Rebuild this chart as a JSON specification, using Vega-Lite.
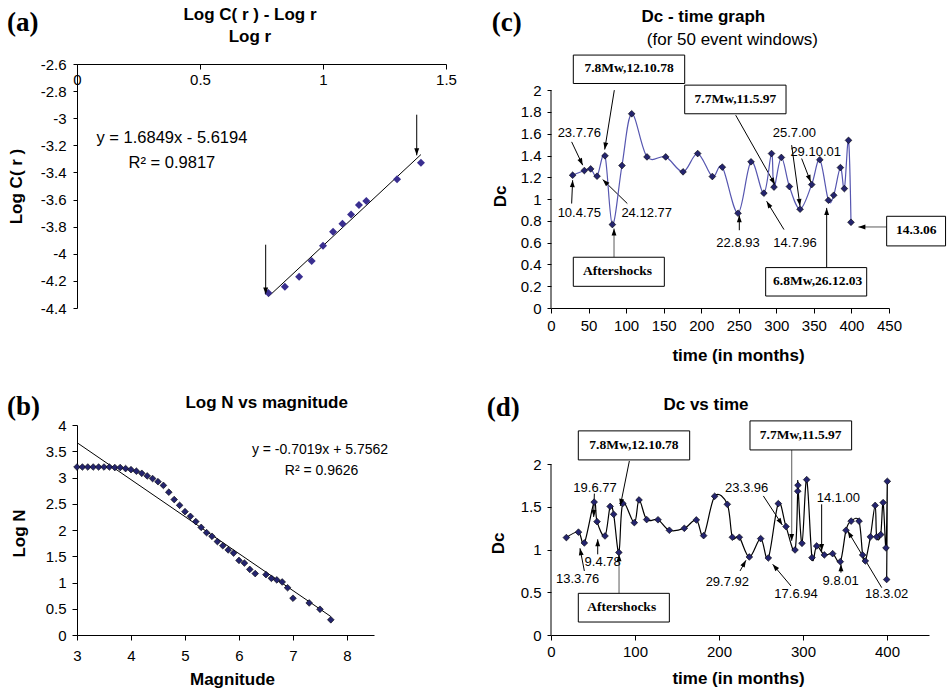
{
  "$schema": "https://vega.github.io/schema/vega-lite/v6.json",
  "background": "white",
  "padding": {"left": 6, "top": 5, "right": 0, "bottom": 3},
  "columns": 2,
  "bounds": "flush",
  "align": "each",
  "spacing": {"row": 117, "column": 105},
  "datasets": {
    "a_pts": [{"x":0.778,"y":-4.289},{"x":0.845,"y":-4.243},{"x":0.903,"y":-4.169},{"x":0.954,"y":-4.053},{"x":1.0,"y":-3.94},{"x":1.041,"y":-3.837},{"x":1.079,"y":-3.778},{"x":1.114,"y":-3.711},{"x":1.146,"y":-3.64},{"x":1.176,"y":-3.611},{"x":1.301,"y":-3.451},{"x":1.398,"y":-3.328}],
    "a_arrows": [{"x":0.767,"y":-3.933,"x2":0.767,"y2":-4.3,"ang":180},{"x":1.381,"y":-2.974,"x2":1.381,"y2":-3.274,"ang":180}],
    "a_title": [{"x":0.703,"y":-2.2385,"label":"Log C( r ) - Log r"},{"x":0.703,"y":-2.4008,"label":"Log r"}],
    "a_tag": [{"x":-0.2846,"y":-2.2975,"label":"(a)"}],
    "a_eq": [{"x":0.386,"y":-3.146,"label":"y = 1.6849x - 5.6194"},{"x":0.386,"y":-3.328,"label":"R² = 0.9817"}],
    "b_pts": [{"x":3.0,"y":3.2},{"x":3.1,"y":3.2},{"x":3.2,"y":3.2},{"x":3.3,"y":3.2},{"x":3.4,"y":3.2},{"x":3.5,"y":3.2},{"x":3.6,"y":3.2},{"x":3.7,"y":3.19},{"x":3.8,"y":3.19},{"x":3.9,"y":3.17},{"x":4.0,"y":3.15},{"x":4.1,"y":3.12},{"x":4.2,"y":3.08},{"x":4.3,"y":3.03},{"x":4.4,"y":2.98},{"x":4.5,"y":2.92},{"x":4.6,"y":2.85},{"x":4.7,"y":2.72},{"x":4.8,"y":2.58},{"x":4.9,"y":2.47},{"x":5.0,"y":2.35},{"x":5.1,"y":2.26},{"x":5.2,"y":2.16},{"x":5.3,"y":2.05},{"x":5.4,"y":1.95},{"x":5.5,"y":1.88},{"x":5.6,"y":1.78},{"x":5.7,"y":1.7},{"x":5.8,"y":1.62},{"x":5.9,"y":1.56},{"x":6.0,"y":1.42},{"x":6.1,"y":1.37},{"x":6.2,"y":1.25},{"x":6.3,"y":1.17},{"x":6.5,"y":1.15},{"x":6.6,"y":1.08},{"x":6.7,"y":1.05},{"x":6.8,"y":1.01},{"x":6.9,"y":0.9},{"x":7.0,"y":0.7},{"x":7.3,"y":0.61},{"x":7.5,"y":0.49},{"x":7.7,"y":0.29}],
    "b_title": [{"x":6.513,"y":4.425,"label":"Log N vs magnitude"}],
    "b_tag": [{"x":1.704,"y":4.343,"label":"(b)"}],
    "b_eq": [{"x":7.5,"y":3.524,"label":"y = -0.7019x + 5.7562"},{"x":7.53,"y":3.124,"label":"R² = 0.9626"}],
    "c_pts": [{"i":1,"x":28.8,"y":1.219},{"i":2,"x":44.4,"y":1.262},{"i":3,"x":52.8,"y":1.277},{"i":4,"x":61.3,"y":1.21},{"i":5,"x":71.9,"y":1.397},{"i":6,"x":81.7,"y":0.766},{"i":7,"x":94.5,"y":1.308},{"i":8,"x":107.4,"y":1.783},{"i":9,"x":127.8,"y":1.387},{"i":10,"x":152.7,"y":1.387},{"i":11,"x":175.8,"y":1.25},{"i":12,"x":195.3,"y":1.418},{"i":13,"x":214.8,"y":1.207},{"i":14,"x":228.1,"y":1.293},{"i":15,"x":249.0,"y":0.87},{"i":16,"x":266.3,"y":1.342},{"i":17,"x":283.4,"y":1.054},{"i":18,"x":293.6,"y":1.418},{"i":19,"x":296.9,"y":1.11},{"i":20,"x":306.7,"y":1.382},{"i":21,"x":317.4,"y":1.115},{"i":22,"x":331.6,"y":0.907},{"i":23,"x":347.1,"y":1.133},{"i":24,"x":357.9,"y":1.361},{"i":25,"x":369.3,"y":0.989},{"i":26,"x":376.4,"y":1.035},{"i":27,"x":385.3,"y":1.289},{"i":28,"x":390.6,"y":1.096},{"i":29,"x":396.1,"y":1.539},{"i":30,"x":399.4,"y":0.787}],
    "c_arrows": [{"x":84.3,"y":2.0,"x2":71.5,"y2":1.455,"ang":189.2},{"x":245.9,"y":1.77,"x2":298.2,"y2":1.133,"ang":150.4},{"x":27.5,"y":1.525,"x2":42.2,"y2":1.311,"ang":154.8},{"x":27.5,"y":0.959,"x2":28.8,"y2":1.173,"ang":2.5},{"x":101.6,"y":0.959,"x2":68.8,"y2":1.179,"ang":-45.8},{"x":250.7,"y":0.714,"x2":250.7,"y2":0.851,"ang":0},{"x":310.2,"y":0.72,"x2":287.1,"y2":0.98,"ang":-31.5},{"x":320.4,"y":1.495,"x2":331.5,"y2":0.937,"ang":172.2},{"x":333.7,"y":1.372,"x2":345.7,"y2":1.158,"ang":158.9},{"x":367.0,"y":0.371,"x2":367.0,"y2":0.919,"ang":0}],
    "c_arrows_gray": [{"x":83.9,"y":0.466,"x2":83.9,"y2":0.729,"ang":0},{"x":446.9,"y":0.744,"x2":409.2,"y2":0.744,"ang":-90}],
    "c_boxes": [{"x":29.7,"x2":178.0,"y":2.322,"y2":2.061},{"x":178.0,"x2":312.9,"y":2.046,"y2":1.783},{"x":29.7,"x2":150.9,"y":0.466,"y2":0.199},{"x":285.8,"x2":420.3,"y":0.371,"y2":0.11},{"x":446.9,"x2":525.3,"y":0.842,"y2":0.57}],
    "c_boxtext": [{"x":103.9,"y":2.2,"label":"7.8Mw,12.10.78"},{"x":245.5,"y":1.92,"label":"7.7Mw,11.5.97"},{"x":88.5,"y":0.34,"label":"Aftershocks"},{"x":355,"y":0.248,"label":"6.8Mw,26.12.03"},{"x":486.3,"y":0.715,"label":"14.3.06"}],
    "c_dates": [{"x":37.7,"y":1.602,"label":"23.7.76"},{"x":37.7,"y":0.876,"label":"10.4.75"},{"x":127.4,"y":0.876,"label":"24.12.77"},{"x":249.0,"y":0.6,"label":"22.8.93"},{"x":324.9,"y":0.6,"label":"14.7.96"},{"x":324.0,"y":1.602,"label":"25.7.00"},{"x":352.4,"y":1.433,"label":"29.10.01"}],
    "c_title": [{"x":202.8,"y":2.667,"label":"Dc - time graph"}],
    "c_sub": [{"x":241.4,"y":2.459,"label":"(for 50 event windows)"}],
    "c_tag": [{"x":-79,"y":2.612,"label":"(c)"}],
    "d_pts": [{"i":1,"x":18.3,"y":1.141},{"i":2,"x":32.7,"y":1.205},{"i":3,"x":39.7,"y":1.078},{"i":4,"x":51.4,"y":1.557},{"i":5,"x":54.8,"y":1.328},{"i":6,"x":64.3,"y":1.16},{"i":7,"x":70.4,"y":1.506},{"i":8,"x":74.6,"y":1.414},{"i":9,"x":80.8,"y":0.967},{"i":10,"x":85.5,"y":1.541},{"i":11,"x":99.2,"y":1.316},{"i":12,"x":104.8,"y":1.582},{"i":13,"x":113.9,"y":1.352},{"i":14,"x":127.4,"y":1.35},{"i":15,"x":140.9,"y":1.227},{"i":16,"x":158.7,"y":1.25},{"i":17,"x":173.0,"y":1.348},{"i":18,"x":181.7,"y":1.164},{"i":19,"x":194.8,"y":1.625},{"i":20,"x":209.9,"y":1.531},{"i":21,"x":215.9,"y":1.145},{"i":22,"x":224.2,"y":1.145},{"i":23,"x":236.1,"y":0.914},{"i":24,"x":249.6,"y":1.129},{"i":25,"x":258.7,"y":0.902},{"i":26,"x":270.6,"y":1.539},{"i":27,"x":279.8,"y":1.27},{"i":28,"x":290.5,"y":0.996},{"i":29,"x":293.7,"y":1.684},{"i":30,"x":294.0,"y":1.754},{"i":31,"x":298.8,"y":1.074},{"i":32,"x":304.4,"y":1.82},{"i":33,"x":310.7,"y":0.906},{"i":34,"x":316.3,"y":1.043},{"i":35,"x":325.4,"y":0.938},{"i":36,"x":335.3,"y":0.953},{"i":37,"x":344.4,"y":0.859},{"i":38,"x":351.2,"y":1.227},{"i":39,"x":357.3,"y":1.334},{"i":40,"x":366.7,"y":1.334},{"i":41,"x":371.0,"y":0.938},{"i":42,"x":374.2,"y":0.867},{"i":43,"x":380.2,"y":1.15},{"i":44,"x":385.9,"y":1.518},{"i":45,"x":387.7,"y":1.15},{"i":46,"x":392.5,"y":1.176},{"i":47,"x":395.4,"y":1.551},{"i":48,"x":398.8,"y":1.02},{"i":49,"x":400.4,"y":1.8},{"i":50,"x":399.6,"y":0.65}],
    "d_arrows": [{"x":93.3,"y":2.039,"x2":82.5,"y2":1.512,"ang":-168.7},{"x":51.6,"y":1.656,"x2":50.8,"y2":1.383,"ang":181.6},{"x":39.7,"y":0.75,"x2":34.5,"y2":1.016,"ang":-10.8},{"x":55.6,"y":0.945,"x2":55.6,"y2":1.121,"ang":0},{"x":225,"y":0.75,"x2":232.1,"y2":0.875,"ang":29.4},{"x":285.7,"y":0.574,"x2":263.9,"y2":0.828,"ang":-40.2},{"x":252.8,"y":1.629,"x2":275.4,"y2":1.289,"ang":146.8},{"x":322.2,"y":1.531,"x2":322.2,"y2":0.984,"ang":180},{"x":345.2,"y":0.73,"x2":345.2,"y2":0.828,"ang":0},{"x":393.7,"y":0.555,"x2":353.2,"y2":1.219,"ang":-31.0}],
    "d_arrows_gray": [{"x":286.5,"y":2.168,"x2":286.5,"y2":1.102,"ang":180},{"x":81,"y":0.488,"x2":81,"y2":0.945,"ang":0}],
    "d_boxes": [{"x":32.5,"x2":165.1,"y":2.391,"y2":2.051},{"x":236.9,"x2":357.9,"y":2.508,"y2":2.168},{"x":32.5,"x2":140.9,"y":0.488,"y2":0.152}],
    "d_boxtext": [{"x":98.8,"y":2.227,"label":"7.8Mw,12.10.78"},{"x":297.2,"y":2.344,"label":"7.7Mw,11.5.97"},{"x":84.1,"y":0.332,"label":"Aftershocks"}],
    "d_dates": [{"x":52.4,"y":1.727,"label":"19.6.77"},{"x":31.7,"y":0.652,"label":"13.3.76"},{"x":61.5,"y":0.855,"label":"9.4.78"},{"x":209.9,"y":0.625,"label":"29.7.92"},{"x":291.7,"y":0.477,"label":"17.6.94"},{"x":232.9,"y":1.727,"label":"23.3.96"},{"x":342.1,"y":1.609,"label":"14.1.00"},{"x":344.8,"y":0.633,"label":"9.8.01"},{"x":399.6,"y":0.477,"label":"18.3.02"}],
    "d_title": [{"x":184.5,"y":2.695,"label":"Dc vs time"}],
    "d_tag": [{"x":-76.5,"y":2.664,"label":"(d)"}]
  },
  "concat": [
    {
      "width": 369, "height": 244,
      "encoding": {
        "x": {"field": "x", "type": "quantitative", "scale": {"domain": [0, 1.5], "nice": false, "zero": false},
              "axis": {"orient": "bottom", "offset": -244, "values": [0, 0.5, 1, 1.5], "format": "~g", "title": null, "tickSize": 5, "labelPadding": 3}},
        "y": {"field": "y", "type": "quantitative", "scale": {"domain": [-4.4, -2.6], "nice": false, "zero": false},
              "axis": {"values": [-4.4, -4.2, -4, -3.8, -3.6, -3.4, -3.2, -3, -2.8, -2.6], "format": ".1~f", "labelExpr": "replace(datum.label, '\u2212', '-')", "title": "Log C( r )", "titleX": -61, "titleY": 122, "tickSize": 4, "labelPadding": 7}}
      },
      "layer": [
        {"data": {"name": "a_arrows"}, "mark": {"type": "rule", "color": "black", "strokeWidth": 1, "clip": false}, "encoding": {"x2": {"field": "x2"}, "y2": {"field": "y2"}}},
        {"data": {"name": "a_pts"}, "transform": [{"regression": "y", "on": "x"}], "mark": {"type": "line", "color": "black", "strokeWidth": 1, "clip": false}, "encoding": {}},
        {"data": {"name": "a_pts"}, "mark": {"type": "point", "shape": "diamond", "filled": true, "size": 64, "color": "#3a2f90", "opacity": 1, "clip": false}, "encoding": {}},
        {"data": {"name": "a_arrows"}, "mark": {"type": "point", "shape": "M0,0L-0.7,2L0.7,2Z", "filled": true, "size": 49, "color": "black", "opacity": 1, "clip": false},
         "encoding": {"x": {"field": "x2", "type": "quantitative", "scale": {"domain": [0, 1.5], "nice": false, "zero": false},
                            "axis": {"orient": "bottom", "offset": -244, "values": [0, 0.5, 1, 1.5], "format": "~g", "title": null, "tickSize": 5, "labelPadding": 3}},
                      "y": {"field": "y2", "type": "quantitative", "scale": {"domain": [-4.4, -2.6], "nice": false, "zero": false},
                            "axis": {"values": [-4.4, -4.2, -4, -3.8, -3.6, -3.4, -3.2, -3, -2.8, -2.6], "format": ".1~f", "labelExpr": "replace(datum.label, '\u2212', '-')", "title": "Log C( r )", "titleX": -61, "titleY": 122, "tickSize": 4, "labelPadding": 7}},
                      "angle": {"field": "ang", "type": "quantitative", "scale": null}}},
        {"data": {"name": "a_title"}, "mark": {"type": "text", "font": "Liberation Sans", "fontSize": 17, "fontWeight": "bold", "align": "center", "baseline": "middle", "color": "black", "clip": false}, "encoding": {"text": {"field": "label"}}},
        {"data": {"name": "a_tag"}, "mark": {"type": "text", "font": "Liberation Serif", "fontSize": 27, "fontWeight": "bold", "align": "left", "baseline": "middle", "color": "black", "clip": false}, "encoding": {"text": {"field": "label"}}},
        {"data": {"name": "a_eq"}, "mark": {"type": "text", "font": "Liberation Sans", "fontSize": 16.5, "align": "center", "baseline": "middle", "color": "black", "clip": false}, "encoding": {"text": {"field": "label"}}}
      ]
    },
    {
      "width": 338, "height": 244,
      "encoding": {
        "x": {"field": "x", "type": "quantitative", "scale": {"domain": [0, 450], "nice": false, "zero": false},
              "axis": {"values": [0, 50, 100, 150, 200, 250, 300, 350, 400, 450], "title": "time (in months)", "titleX": 187, "titleY": 47, "tickSize": 5, "labelPadding": 5}},
        "y": {"field": "y", "type": "quantitative", "scale": {"domain": [0, 2.24], "nice": false, "zero": false},
              "axis": {"values": [0, 0.2, 0.4, 0.6, 0.8, 1, 1.2, 1.4, 1.6, 1.8, 2], "format": "~g", "domain": false, "title": "Dc", "titleX": -51, "titleY": 132, "tickSize": 4, "labelPadding": 6}}
      },
      "layer": [
        {"data": {"values": [{"x": 0, "y": 0, "y2": 2}]}, "mark": {"type": "rule", "color": "black", "strokeWidth": 1, "clip": false}, "encoding": {"y2": {"field": "y2"}}},
        {"data": {"name": "c_arrows"}, "mark": {"type": "rule", "color": "black", "strokeWidth": 1, "clip": false}, "encoding": {"x2": {"field": "x2"}, "y2": {"field": "y2"}}},
        {"data": {"name": "c_arrows_gray"}, "mark": {"type": "rule", "color": "#808080", "strokeWidth": 1.3, "clip": false}, "encoding": {"x2": {"field": "x2"}, "y2": {"field": "y2"}}},
        {"data": {"name": "c_pts"}, "mark": {"type": "line", "color": "#5656b0", "strokeWidth": 1.2, "interpolate": "cardinal", "clip": false}, "encoding": {"order": {"field": "i", "type": "quantitative"}}},
        {"data": {"name": "c_pts"}, "mark": {"type": "point", "shape": "diamond", "filled": true, "size": 45, "fill": "#24246e", "stroke": "black", "strokeWidth": 0.6, "opacity": 1, "clip": false}, "encoding": {}},
        {"data": {"name": "c_boxes"}, "mark": {"type": "rect", "fill": "white", "stroke": "black", "strokeWidth": 1, "clip": false}, "encoding": {"x2": {"field": "x2"}, "y2": {"field": "y2"}}},
        {"data": {"name": "c_boxtext"}, "mark": {"type": "text", "font": "Liberation Serif", "fontSize": 13.5, "fontWeight": "bold", "align": "center", "baseline": "middle", "color": "black", "clip": false}, "encoding": {"text": {"field": "label"}}},
        {"data": {"name": "c_dates"}, "mark": {"type": "text", "font": "Liberation Sans", "fontSize": 13, "align": "center", "baseline": "middle", "color": "black", "clip": false}, "encoding": {"text": {"field": "label"}}},
        {"data": {"name": "c_title"}, "mark": {"type": "text", "font": "Liberation Sans", "fontSize": 17, "fontWeight": "bold", "align": "center", "baseline": "middle", "color": "black", "clip": false}, "encoding": {"text": {"field": "label"}}},
        {"data": {"name": "c_sub"}, "mark": {"type": "text", "font": "Liberation Sans", "fontSize": 17, "align": "center", "baseline": "middle", "color": "black", "clip": false}, "encoding": {"text": {"field": "label"}}},
        {"data": {"name": "c_tag"}, "mark": {"type": "text", "font": "Liberation Serif", "fontSize": 27, "fontWeight": "bold", "align": "left", "baseline": "middle", "color": "black", "clip": false}, "encoding": {"text": {"field": "label"}}},
        {"data": {"name": "c_arrows"}, "mark": {"type": "point", "shape": "M0,0L-0.7,2L0.7,2Z", "filled": true, "size": 49, "color": "black", "opacity": 1, "clip": false},
         "encoding": {"x": {"field": "x2", "type": "quantitative", "scale": {"domain": [0, 450], "nice": false, "zero": false},
                            "axis": {"values": [0, 50, 100, 150, 200, 250, 300, 350, 400, 450], "title": "time (in months)", "titleX": 187, "titleY": 47, "tickSize": 5, "labelPadding": 5}},
                      "y": {"field": "y2", "type": "quantitative", "scale": {"domain": [0, 2.24], "nice": false, "zero": false},
                            "axis": {"values": [0, 0.2, 0.4, 0.6, 0.8, 1, 1.2, 1.4, 1.6, 1.8, 2], "format": "~g", "domain": false, "title": "Dc", "titleX": -51, "titleY": 132, "tickSize": 4, "labelPadding": 6}},
                      "angle": {"field": "ang", "type": "quantitative", "scale": null}}},
        {"data": {"name": "c_arrows_gray"}, "mark": {"type": "point", "shape": "M0,0L-0.7,2L0.7,2Z", "filled": true, "size": 49, "color": "black", "opacity": 1, "clip": false},
         "encoding": {"x": {"field": "x2", "type": "quantitative", "scale": {"domain": [0, 450], "nice": false, "zero": false},
                            "axis": {"values": [0, 50, 100, 150, 200, 250, 300, 350, 400, 450], "title": "time (in months)", "titleX": 187, "titleY": 47, "tickSize": 5, "labelPadding": 5}},
                      "y": {"field": "y2", "type": "quantitative", "scale": {"domain": [0, 2.24], "nice": false, "zero": false},
                            "axis": {"values": [0, 0.2, 0.4, 0.6, 0.8, 1, 1.2, 1.4, 1.6, 1.8, 2], "format": "~g", "domain": false, "title": "Dc", "titleX": -51, "titleY": 132, "tickSize": 4, "labelPadding": 6}},
                      "angle": {"field": "ang", "type": "quantitative", "scale": null}}}
      ]
    },
    {
      "width": 297, "height": 210,
      "encoding": {
        "x": {"field": "x", "type": "quantitative", "scale": {"domain": [3, 8.5], "nice": false, "zero": false},
              "axis": {"values": [3, 4, 5, 6, 7, 8], "title": "Magnitude", "titleX": 155, "titleY": 44, "tickSize": 5, "labelPadding": 8}},
        "y": {"field": "y", "type": "quantitative", "scale": {"domain": [0, 4], "nice": false, "zero": false},
              "axis": {"values": [0, 0.5, 1, 1.5, 2, 2.5, 3, 3.5, 4], "format": "~g", "title": "Log N", "titleX": -58, "titleY": 108, "tickSize": 5, "labelPadding": 6}}
      },
      "layer": [
        {"data": {"name": "b_pts"}, "transform": [{"regression": "y", "on": "x"}], "mark": {"type": "line", "color": "black", "strokeWidth": 1, "clip": false}, "encoding": {}},
        {"data": {"name": "b_pts"}, "mark": {"type": "point", "shape": "diamond", "filled": true, "size": 45, "fill": "#24246e", "stroke": "black", "strokeWidth": 0.6, "opacity": 1, "clip": false}, "encoding": {}},
        {"data": {"name": "b_title"}, "mark": {"type": "text", "font": "Liberation Sans", "fontSize": 17, "fontWeight": "bold", "align": "center", "baseline": "middle", "color": "black", "clip": false}, "encoding": {"text": {"field": "label"}}},
        {"data": {"name": "b_tag"}, "mark": {"type": "text", "font": "Liberation Serif", "fontSize": 27, "fontWeight": "bold", "align": "left", "baseline": "middle", "color": "black", "clip": false}, "encoding": {"text": {"field": "label"}}},
        {"data": {"name": "b_eq"}, "mark": {"type": "text", "font": "Liberation Sans", "fontSize": 14, "align": "center", "baseline": "middle", "color": "black", "clip": false}, "encoding": {"text": {"field": "label"}}}
      ]
    },
    {
      "width": 378, "height": 210,
      "encoding": {
        "x": {"field": "x", "type": "quantitative", "scale": {"domain": [0, 450], "nice": false, "zero": false},
              "axis": {"values": [0, 100, 200, 300, 400], "title": "time (in months)", "titleX": 187, "titleY": 43, "tickSize": 5, "labelPadding": 4}},
        "y": {"field": "y", "type": "quantitative", "scale": {"domain": [0, 2.46], "nice": false, "zero": false},
              "axis": {"values": [0, 0.5, 1, 1.5, 2], "format": "~g", "domain": false, "title": "Dc", "titleX": -53, "titleY": 118, "tickSize": 4, "labelPadding": 6}}
      },
      "layer": [
        {"data": {"values": [{"x": 0, "y": 0, "y2": 2}]}, "mark": {"type": "rule", "color": "black", "strokeWidth": 1, "clip": false}, "encoding": {"y2": {"field": "y2"}}},
        {"data": {"name": "d_arrows"}, "mark": {"type": "rule", "color": "black", "strokeWidth": 1, "clip": false}, "encoding": {"x2": {"field": "x2"}, "y2": {"field": "y2"}}},
        {"data": {"name": "d_arrows_gray"}, "mark": {"type": "rule", "color": "#808080", "strokeWidth": 1.3, "clip": false}, "encoding": {"x2": {"field": "x2"}, "y2": {"field": "y2"}}},
        {"data": {"name": "d_pts"}, "mark": {"type": "line", "color": "black", "strokeWidth": 1.2, "interpolate": "cardinal", "clip": false}, "encoding": {"order": {"field": "i", "type": "quantitative"}}},
        {"data": {"name": "d_pts"}, "mark": {"type": "point", "shape": "diamond", "filled": true, "size": 45, "fill": "#24246e", "stroke": "black", "strokeWidth": 0.6, "opacity": 1, "clip": false}, "encoding": {}},
        {"data": {"name": "d_boxes"}, "mark": {"type": "rect", "fill": "white", "stroke": "black", "strokeWidth": 1, "clip": false}, "encoding": {"x2": {"field": "x2"}, "y2": {"field": "y2"}}},
        {"data": {"name": "d_boxtext"}, "mark": {"type": "text", "font": "Liberation Serif", "fontSize": 13.5, "fontWeight": "bold", "align": "center", "baseline": "middle", "color": "black", "clip": false}, "encoding": {"text": {"field": "label"}}},
        {"data": {"name": "d_dates"}, "mark": {"type": "text", "font": "Liberation Sans", "fontSize": 13, "align": "center", "baseline": "middle", "color": "black", "clip": false}, "encoding": {"text": {"field": "label"}}},
        {"data": {"name": "d_title"}, "mark": {"type": "text", "font": "Liberation Sans", "fontSize": 17, "fontWeight": "bold", "align": "center", "baseline": "middle", "color": "black", "clip": false}, "encoding": {"text": {"field": "label"}}},
        {"data": {"name": "d_tag"}, "mark": {"type": "text", "font": "Liberation Serif", "fontSize": 27, "fontWeight": "bold", "align": "left", "baseline": "middle", "color": "black", "clip": false}, "encoding": {"text": {"field": "label"}}},
        {"data": {"name": "d_arrows"}, "mark": {"type": "point", "shape": "M0,0L-0.7,2L0.7,2Z", "filled": true, "size": 49, "color": "black", "opacity": 1, "clip": false},
         "encoding": {"x": {"field": "x2", "type": "quantitative", "scale": {"domain": [0, 450], "nice": false, "zero": false},
                            "axis": {"values": [0, 100, 200, 300, 400], "title": "time (in months)", "titleX": 187, "titleY": 43, "tickSize": 5, "labelPadding": 4}},
                      "y": {"field": "y2", "type": "quantitative", "scale": {"domain": [0, 2.46], "nice": false, "zero": false},
                            "axis": {"values": [0, 0.5, 1, 1.5, 2], "format": "~g", "domain": false, "title": "Dc", "titleX": -53, "titleY": 118, "tickSize": 4, "labelPadding": 6}},
                      "angle": {"field": "ang", "type": "quantitative", "scale": null}}},
        {"data": {"name": "d_arrows_gray"}, "mark": {"type": "point", "shape": "M0,0L-0.7,2L0.7,2Z", "filled": true, "size": 49, "color": "black", "opacity": 1, "clip": false},
         "encoding": {"x": {"field": "x2", "type": "quantitative", "scale": {"domain": [0, 450], "nice": false, "zero": false},
                            "axis": {"values": [0, 100, 200, 300, 400], "title": "time (in months)", "titleX": 187, "titleY": 43, "tickSize": 5, "labelPadding": 4}},
                      "y": {"field": "y2", "type": "quantitative", "scale": {"domain": [0, 2.46], "nice": false, "zero": false},
                            "axis": {"values": [0, 0.5, 1, 1.5, 2], "format": "~g", "domain": false, "title": "Dc", "titleX": -53, "titleY": 118, "tickSize": 4, "labelPadding": 6}},
                      "angle": {"field": "ang", "type": "quantitative", "scale": null}}}
      ]
    }
  ],
  "config": {
    "view": {"stroke": null},
    "font": "Liberation Sans",
    "axis": {"grid": false, "domainColor": "black", "tickColor": "black", "labelColor": "black", "titleColor": "black",
             "labelFont": "Liberation Sans", "titleFont": "Liberation Sans", "labelFontSize": 15, "titleFontSize": 17, "titleFontWeight": "bold",
             "labelFlush": false, "labelOverlap": false, "titleAlign": "center", "titleBaseline": "middle", "domainWidth": 1, "tickWidth": 1},
    "axisY": {"titleAngle": -90}
  }
}
